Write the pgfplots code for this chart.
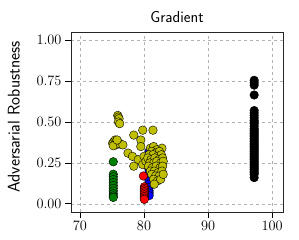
\documentclass[border=0pt]{standalone}
\usepackage{pgfplots}
\pgfplotsset{compat=1.18}
\begin{document}
\begin{tikzpicture}
\begin{axis}[name=ax,
  scale only axis, width=212bp, height=180bp,
  xmin=68.6, xmax=101.7, ymin=-0.05, ymax=1.05,
  xtick={70,80,90,100}, ytick={0,0.25,0.5,0.75,1},
  yticklabel style={/pgf/number format/fixed,/pgf/number format/fixed zerofill,/pgf/number format/precision=2},
  tick label style={font=\fontsize{14.5}{16}\selectfont},
  tick align=outside, tick pos=left, major tick length=6bp,
  every tick/.style={black, line width=0.8pt},
  grid=major, grid style={dashed, gray!60, line width=0.6pt},
  axis line style={black!85, line width=1pt},
  title={\sffamily\fontsize{16}{18}\selectfont Gradient},
  title style={yshift=0bp},
  ylabel={\sffamily\fontsize{17}{19}\selectfont Adversarial Robustness},
  ylabel style={yshift=10bp, xshift=5bp},
  every axis plot/.append style={only marks, mark=*, mark size=4.3bp,
    mark options={draw=black, line width=0.6pt, fill opacity=0.75, draw opacity=0.85}},
]
% blue
\addplot[mark options={fill=blue}] coordinates {
(80.8,0.32)(80.7,0.29)(80.8,0.26)(80.6,0.23)(80.8,0.20)(80.7,0.17)(80.8,0.14)(80.8,0.12)(80.8,0.10)(80.8,0.08)(80.8,0.065)(80.8,0.05)};
% red
\addplot[mark options={fill=red}] coordinates {
(79.9,0.17)(80.05,0.104)(80.05,0.095)(80.05,0.085)(80.05,0.075)(80.05,0.065)(80.05,0.055)(80.05,0.045)(80.05,0.035)(80.05,0.027)};
% green
\addplot[mark options={fill=green!50!black}] coordinates {
(75.2,0.257)(75.2,0.181)(75.2,0.165)(75.2,0.148)(75.2,0.13)(75.2,0.112)(75.2,0.095)(75.2,0.078)(75.2,0.062)(75.2,0.048)(75.2,0.039)};
% yellow
\addplot[mark options={fill={rgb,1:red,0.75;green,0.75;blue,0}}] coordinates {
(75.9,0.54)(76.0,0.53)(76.1,0.52)(76.0,0.50)(76.2,0.49)
(75.1,0.37)(75.3,0.38)(75.5,0.39)(75.7,0.385)(75.9,0.38)(76.0,0.37)(75.6,0.36)(75.2,0.355)(76.3,0.365)(76.7,0.36)(75.8,0.39)
(78.4,0.42)(79.8,0.45)(81.4,0.45)(79.5,0.39)(79.5,0.35)(77.5,0.31)(78.2,0.29)(79.1,0.27)(78.4,0.23)(80.0,0.29)(82.8,0.34)(79.8,0.24)(80.3,0.26)
(81.0,0.34)(81.5,0.35)(82.0,0.33)(81.2,0.32)(81.8,0.31)(82.4,0.32)(80.8,0.30)(81.4,0.30)(82.1,0.29)(82.7,0.30)
(80.6,0.28)(81.1,0.27)(81.7,0.28)(82.3,0.27)(82.9,0.28)(80.9,0.25)(81.5,0.25)(82.0,0.26)(82.6,0.25)(83.0,0.26)
(80.7,0.23)(81.3,0.22)(81.9,0.23)(82.5,0.22)(82.9,0.23)(81.0,0.20)(81.6,0.20)(82.2,0.19)(82.8,0.20)
(81.2,0.18)(81.8,0.17)(82.4,0.17)(81.5,0.15)(82.1,0.14)(81.6,0.12)(82.6,0.15)(83.0,0.18)};
% black
\addplot[mark options={fill=black}] coordinates {
(97.2,0.755)(97.2,0.74)(97.2,0.725)(97.2,0.665)(97.2,0.57)(97.2,0.555)(97.2,0.54)(97.2,0.525)(97.2,0.51)(97.2,0.50)(97.2,0.49)(97.2,0.475)(97.2,0.46)(97.2,0.45)(97.2,0.44)(97.2,0.43)(97.2,0.42)(97.2,0.41)(97.2,0.40)(97.2,0.39)(97.2,0.38)(97.2,0.37)(97.2,0.36)(97.2,0.35)(97.2,0.34)(97.2,0.33)(97.2,0.32)(97.2,0.31)(97.2,0.30)(97.2,0.29)(97.2,0.28)(97.2,0.27)(97.2,0.26)(97.2,0.25)(97.2,0.24)(97.2,0.23)(97.2,0.22)(97.2,0.21)(97.2,0.20)(97.2,0.19)(97.2,0.18)(97.2,0.16)};
\end{axis}
\pgfresetboundingbox
\path[use as bounding box] (ax.south west) ++(-71bp,-28bp) rectangle ([xshift=16bp,yshift=32bp]ax.north east);
\end{tikzpicture}
\end{document}
